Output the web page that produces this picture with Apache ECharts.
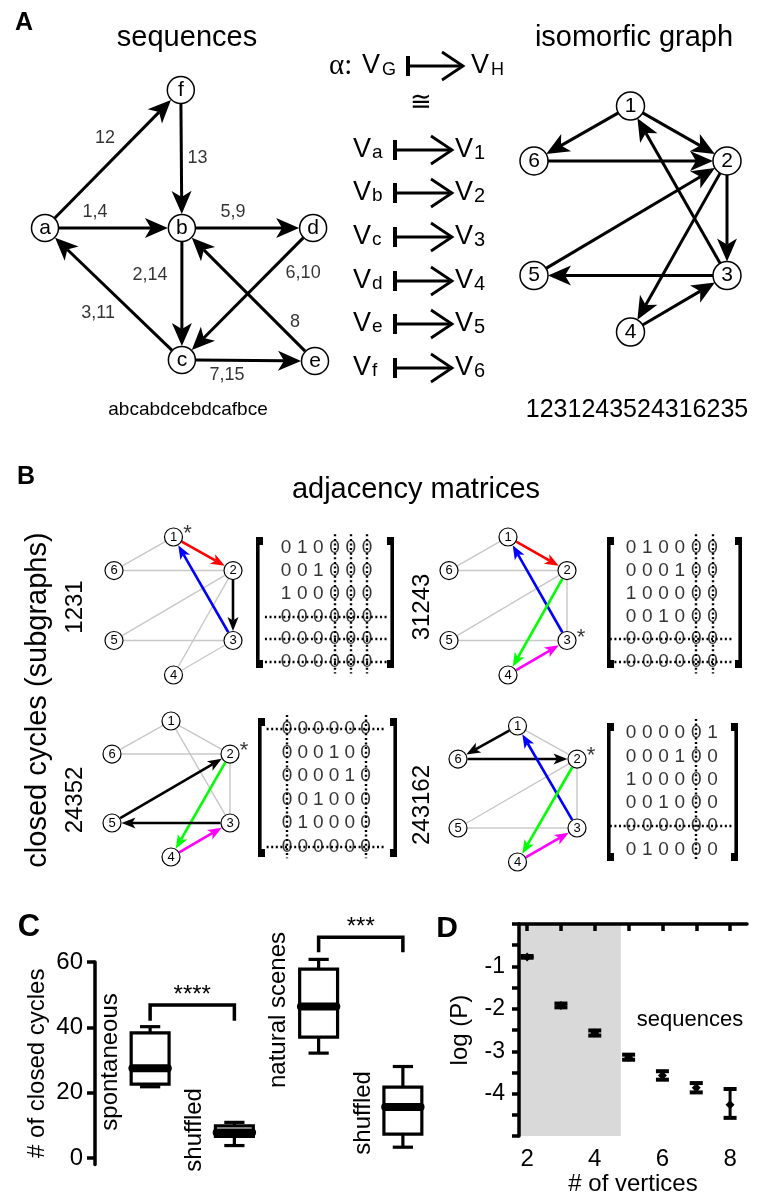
<!DOCTYPE html>
<html><head><meta charset="utf-8">
<script src="https://cdn.jsdelivr.net/npm/echarts@6/dist/echarts.min.js"></script>
<style>html,body{margin:0;padding:0;background:#fff}#main{width:758px;height:1197px}</style>
</head><body><div id="main"></div>
<script>
const FONT = '"Liberation Sans", Arial, sans-serif';

// ===== Panel A data =====
const seqNodes = ['a','b','c','d','e','f'];
const seqEdges = [['a','f'],['f','b'],['a','b'],['b','d'],['b','c'],['d','c'],['c','a'],['e','b'],['c','e']];
const seqEdgeLabels = ['12','13','1,4','5,9','2,14','6,10','3,11','8','7,15'];
const seqString = 'abcabdcebdcafbce';
const isoNodes = ['1','2','3','4','5','6'];
const isoEdges = [['1','6'],['1','2'],['6','2'],['3','1'],['2','3'],['5','2'],['2','4'],['3','5'],['4','3']];
const isoString = '1231243524316235';
const mapFrom = ['a','b','c','d','e','f'];
const mapTo = ['1','2','3','4','5','6'];

// ===== Panel B data =====
const cycles = ['1231','31243','24352','243162'];
const matrices = [
  [[0,1,0,0,0,0],[0,0,1,0,0,0],[1,0,0,0,0,0],[0,0,0,0,0,0],[0,0,0,0,0,0],[0,0,0,0,0,0]],
  [[0,1,0,0,0,0],[0,0,0,1,0,0],[1,0,0,0,0,0],[0,0,1,0,0,0],[0,0,0,0,0,0],[0,0,0,0,0,0]],
  [[0,0,0,0,0,0],[0,0,0,1,0,0],[0,0,0,0,1,0],[0,0,1,0,0,0],[0,1,0,0,0,0],[0,0,0,0,0,0]],
  [[0,0,0,0,0,1],[0,0,0,1,0,0],[1,0,0,0,0,0],[0,0,1,0,0,0],[0,0,0,0,0,0],[0,1,0,0,0,0]]
];
const maskedIdx = [[3,4,5],[4,5],[0,5],[4]];
const edgeColor = {'1>2':'#ff0000','3>1':'#0000ff','2>4':'#00ff00','4>3':'#ff00ff'};

// ===== Panel C data =====
const boxCats = ['spontaneous','shuffled','natural scenes','shuffled'];
const boxStats = [[21.8,22.6,27.5,38.3,40.2],[3.8,6.6,7.8,9.8,10.9],[32.1,37.0,46.4,57.8,60.8],[3.3,7.3,15.6,21.7,28.0]];
const boxLabelCenter = [29.4,8.6,45.3,13.8];
const yTicksC = [0,20,40,60];
const sigPairs = [[0,1],[2,3]];
const sigLevels = [[46.8,42.0],[67.6,63.0]];
const sigLabels = ['****','***'];

// ===== Panel D data =====
const vertices = [2,3,4,5,6,7,8];
const logP     = [-0.775,-1.92,-2.57,-3.14,-3.57,-3.86,-4.26];
const logPLow  = [-0.795,-1.965,-2.63,-3.20,-3.67,-3.97,-4.57];
const logPHigh = [-0.755,-1.875,-2.51,-3.08,-3.47,-3.75,-3.89];
const xTicksD = [2,3,4,5,6,7,8];
const xLabelsD = [2,4,6,8];
const yTicksD = [-5,-4.5,-4,-3.5,-3,-2.5,-2,-1.5,-1,-0.5,0];
const yLabelsD = [-1,-2,-3,-4];
const shadedUpTo = 4.77;

// ===== layout (positions only) =====
const seqLayout = {a:[0,0.509], b:[0.507,0.509], c:[0.507,0.996], d:[0.993,0.509], e:[1,1], f:[0.503,0]};
const seqLabelPos = [[0.222,0.177],[0.565,0.251],[0.185,0.450],[0.696,0.450],[0.389,0.683],[0.956,0.675],[0.197,0.823],[0.926,0.856],[0.674,1.052]];
const hexLayout = {'1':[0.5,0],'6':[0,0.243],'2':[1,0.243],'5':[0,0.75],'3':[1,0.75],'4':[0.5,1]};
const seqBox = [45,90,315,361];
const isoBox = [534,106,727,332];
const smallBoxes = [[114,537,233,675],[449,537,567,675],[112,721,230,857],[458,726,577,862]];
const matLayout = [
  {col0:286, dc:16.2, row0:548, dr:22.8, bx:[256,394], by:[537,668]},
  {col0:631, dc:16.3, row0:548, dr:22.8, bx:[607,742], by:[537,668]},
  {col0:287, dc:15.7, row0:729, dr:23.5, bx:[258,397], by:[718,857]},
  {col0:631, dc:16.3, row0:733, dr:23.3, bx:[607,738], by:[723,861]}
];

const grids = [], xAxes = [], yAxes = [], series = [], graphic = [];
function addGrid(r, xr, yr) {
  const i = grids.length;
  grids.push({left:r[0], top:r[1], width:r[2]-r[0], height:r[3]-r[1]});
  xAxes.push({gridIndex:i, type:'value', min:xr[0], max:xr[1], show:false});
  yAxes.push({gridIndex:i, type:'value', min:yr[0], max:yr[1], inverse:true, show:false});
  return i;
}
function nodeSeries(gi, nodes, layout, o) {
  return {type:'scatter', xAxisIndex:gi, yAxisIndex:gi, silent:true, clip:false, z:3,
    symbol:'circle', symbolSize:o.size,
    itemStyle:{color:'#fff', borderColor:'#000', borderWidth:o.border, opacity:1},
    label:{show:true, position:'inside', formatter:'{b}', color:'#000', fontSize:o.font, fontFamily:FONT},
    emphasis:{disabled:true},
    data: nodes.map(n => ({name:n, value:layout[n]}))};
}
function edgeSeries(gi, edges, layout, o) {
  return {type:'custom', xAxisIndex:gi, yAxisIndex:gi, silent:true, clip:false, z:2,
    encode:{x:[0,2], y:[1,3]},
    data: edges.map(e => [layout[e.s][0], layout[e.s][1], layout[e.t][0], layout[e.t][1]]),
    renderItem(params, api) {
      const e = edges[params.dataIndex];
      const p1 = api.coord([api.value(0), api.value(1)]);
      const p2 = api.coord([api.value(2), api.value(3)]);
      const dx = p2[0]-p1[0], dy = p2[1]-p1[1], len = Math.hypot(dx, dy);
      const u = [dx/len, dy/len], n = [-u[1], u[0]];
      const r = o.r;
      const s = [p1[0]+u[0]*r, p1[1]+u[1]*r];
      const tip = [p2[0]-u[0]*r, p2[1]-u[1]*r];
      const color = e.color || '#000';
      const w = e.width || o.width;
      if (!e.arrow) {
        return {type:'line', shape:{x1:s[0], y1:s[1], x2:tip[0], y2:tip[1]}, style:{stroke:color, lineWidth:w}};
      }
      const L = o.L, W = o.W, N = o.N;
      const base = [tip[0]-u[0]*L, tip[1]-u[1]*L];
      const notch = [tip[0]-u[0]*(L-N), tip[1]-u[1]*(L-N)];
      const c1 = [base[0]+n[0]*W/2, base[1]+n[1]*W/2];
      const c2 = [base[0]-n[0]*W/2, base[1]-n[1]*W/2];
      return {type:'group', children:[
        {type:'line', shape:{x1:s[0], y1:s[1], x2:notch[0], y2:notch[1]}, style:{stroke:color, lineWidth:w}},
        {type:'polygon', shape:{points:[tip, c1, notch, c2]}, style:{fill:color}}
      ]};
    }
  };
}
function txt(text, x, y, size, extra) {
  const el = {type:'text', x:x, y:y, z:50,
    style:Object.assign({text:text, fontSize:size, fontFamily:FONT, fill:'#000', align:'center', verticalAlign:'middle'}, (extra && extra.style) || {})};
  if (extra && extra.rotation) el.rotation = extra.rotation;
  return el;
}

// ---- Panel A ----
const bigArrow = {r:14, L:23, W:20, N:6, width:3};
const gSeq = addGrid(seqBox, [0,1], [0,1]);
series.push(edgeSeries(gSeq, seqEdges.map(e => ({s:e[0], t:e[1], arrow:true})), seqLayout, bigArrow));
series.push(nodeSeries(gSeq, seqNodes, seqLayout, {size:27, border:1.5, font:21}));
series.push({type:'scatter', xAxisIndex:gSeq, yAxisIndex:gSeq, symbolSize:1, silent:true, clip:false,
  itemStyle:{color:'rgba(0,0,0,0)'},
  label:{show:true, position:'inside', formatter:'{b}', fontSize:18, color:'#000', fontFamily:FONT},
  data: seqEdgeLabels.map((t,i) => ({name:t, value:seqLabelPos[i]}))});
const gIso = addGrid(isoBox, [0,1], [0,1]);
series.push(edgeSeries(gIso, isoEdges.map(e => ({s:e[0], t:e[1], arrow:true})), hexLayout, bigArrow));
series.push(nodeSeries(gIso, isoNodes, hexLayout, {size:28, border:1.5, font:21}));

graphic.push(txt('A', 24, 23, 25, {style:{fontWeight:'bold'}}));
graphic.push(txt('sequences', 187, 38, 29));
graphic.push(txt('isomorfic graph', 634, 38, 29));
graphic.push(txt(seqString, 188, 410, 19));
graphic.push(txt(isoString, 637, 410, 25));

function mapsto(xb, xt, y) {
  return [
    {type:'line', z:50, shape:{x1:xb, y1:y-10, x2:xb, y2:y+10}, style:{stroke:'#000', lineWidth:4}},
    {type:'line', z:50, shape:{x1:xb, y1:y, x2:xt, y2:y}, style:{stroke:'#000', lineWidth:2.8}},
    {type:'polyline', z:50, shape:{points:[[xt-21,y-14],[xt,y],[xt-21,y+14]]}, style:{stroke:'#000', lineWidth:2.8, fill:null}}
  ];
}
graphic.push(txt('α:', 329, 66, 29, {style:{align:'left', fontFamily:'"Liberation Serif", serif'}}));
graphic.push(txt('V', 362, 66, 27, {style:{align:'left'}}));
graphic.push(txt('G', 382, 70, 18, {style:{align:'left'}}));
graphic.push(...mapsto(408, 463, 66));
graphic.push(txt('V', 471, 66, 27, {style:{align:'left'}}));
graphic.push(txt('H', 491, 70, 18, {style:{align:'left'}}));
graphic.push(txt('≅', 421, 103, 26));
const mapRowY = [150,193,237,281,324,368];
mapFrom.forEach((f, i) => {
  const y = mapRowY[i];
  graphic.push(txt('V', 353, y, 27, {style:{align:'left'}}));
  graphic.push(txt(f, 372, y+3, 19, {style:{align:'left'}}));
  graphic.push(...mapsto(395, 452, y));
  graphic.push(txt('V', 455, y, 27, {style:{align:'left'}}));
  graphic.push(txt(mapTo[i], 474, y+3, 20, {style:{align:'left'}}));
});

// ---- Panel B ----
graphic.push(txt('B', 26, 477, 25, {style:{fontWeight:'bold'}}));
graphic.push(txt('adjacency matrices', 416, 490, 29));
graphic.push(txt('closed cycles (subgraphs)', 38, 700, 29, {rotation:Math.PI/2}));
const cycleLabelPos = [[75,607],[422,607],[75,800],[422,805]];
const smallArrow = {r:9.5, L:14, W:11, N:3.5, width:2.6};
cycles.forEach((cyc, k) => {
  graphic.push(txt(cyc, cycleLabelPos[k][0], cycleLabelPos[k][1], 24, {rotation:Math.PI/2}));
  const gi = addGrid(smallBoxes[k], [0,1], [0,1]);
  const inCycle = {};
  for (let i = 0; i < cyc.length-1; i++) inCycle[cyc[i] + '>' + cyc[i+1]] = true;
  const gray = [], colored = [];
  isoEdges.forEach(e => {
    const key = e[0] + '>' + e[1];
    if (inCycle[key]) colored.push({s:e[0], t:e[1], arrow:true, color:edgeColor[key] || '#000'});
    else gray.push({s:e[0], t:e[1], arrow:false, color:'#c8c8c8', width:1.4});
  });
  series.push(edgeSeries(gi, gray.concat(colored), hexLayout, smallArrow));
  series.push(nodeSeries(gi, isoNodes, hexLayout, {size:18, border:1.2, font:13}));
  series.push({type:'scatter', xAxisIndex:gi, yAxisIndex:gi, symbolSize:1, silent:true, clip:false, z:4,
    itemStyle:{color:'rgba(0,0,0,0)'},
    label:{show:true, position:'inside', formatter:'*', offset:[14,-3], fontSize:22, color:'#000', fontFamily:FONT},
    data:[{value:hexLayout[cyc[0]]}]});
});
matrices.forEach((m, k) => {
  const L = matLayout[k];
  const gi = addGrid([L.col0 - 1.3*L.dc, L.row0 - 0.6*L.dr, L.col0 + 6.3*L.dc, L.row0 + 5.5*L.dr], [-1.3,6.3], [-0.6,5.5]);
  const cells = [];
  m.forEach((row, r) => row.forEach((v, c) => cells.push([c, r, v])));
  series.push({type:'scatter', xAxisIndex:gi, yAxisIndex:gi, symbolSize:1, silent:true,
    itemStyle:{color:'rgba(0,0,0,0)'},
    label:{show:true, position:'inside', formatter: p => String(p.value[2]), fontSize:19, color:'#000', fontFamily:FONT},
    data:cells,
    markLine:{silent:true, symbol:['none','none'], label:{show:false}, animation:false,
      lineStyle:{color:'#000', width:2.4, type:[2,2.6], cap:'butt'},
      data: maskedIdx[k].map(c => ({xAxis:c})).concat(maskedIdx[k].map(r => ({yAxis:r})))}
  });
  const [bl, br] = L.bx, [bt, bb] = L.by;
  [[bl, 1], [br, -1]].forEach(([bx, dir]) => {
    const x0 = dir > 0 ? bx : bx - 3.6;
    graphic.push({type:'rect', z:50, shape:{x:x0, y:bt, width:3.6, height:bb-bt}, style:{fill:'#000'}});
    const cx = dir > 0 ? bx : bx - 7;
    graphic.push({type:'rect', z:50, shape:{x:cx, y:bt, width:7, height:8}, style:{fill:'#000'}});
    graphic.push({type:'rect', z:50, shape:{x:cx, y:bb-8, width:7, height:8}, style:{fill:'#000'}});
  });
});

// ---- Panel C ----
graphic.push(txt('C', 29, 927, 31, {style:{fontWeight:'bold'}}));
const gC = grids.length;
grids.push({left:108, top:962, width:337, height:202.5});
xAxes.push({gridIndex:gC, type:'category', data:boxCats, show:false});
yAxes.push({gridIndex:gC, type:'value', min:-2, max:60, offset:13,
  axisLine:{show:true, lineStyle:{color:'#000', width:3.5}},
  axisTick:{show:true, length:8, lineStyle:{color:'#000', width:3.5}, customValues:yTicksC},
  axisLabel:{customValues:yTicksC, fontSize:24, color:'#000', margin:12, fontFamily:FONT},
  splitLine:{show:false},
  name:'# of closed cycles', nameLocation:'middle', nameGap:46,
  nameTextStyle:{fontSize:24, color:'#000', fontFamily:FONT}});
series.push({type:'custom', xAxisIndex:gC, yAxisIndex:gC, silent:true,
  data: boxStats.map((s, i) => [i].concat(s)),
  renderItem(params, api) {
    const i = api.value(0);
    const band = api.size([1, 0])[0];
    const x = api.coord([i, 0])[0];
    const y = v => api.coord([i, v])[1];
    const yMin = y(api.value(1)), yQ1 = y(api.value(2)), yMed = y(api.value(3)), yQ3 = y(api.value(4)), yMax = y(api.value(5));
    const bw = band * 0.45, cw = band * 0.24, mw = band * 0.42;
    const st = {stroke:'#000', lineWidth:3.2};
    return {type:'group', children:[
      {type:'line', shape:{x1:x, y1:yMax, x2:x, y2:yQ3}, style:st},
      {type:'line', shape:{x1:x, y1:yQ1, x2:x, y2:yMin}, style:st},
      {type:'line', shape:{x1:x-cw/2, y1:yMax, x2:x+cw/2, y2:yMax}, style:st},
      {type:'line', shape:{x1:x-cw/2, y1:yMin, x2:x+cw/2, y2:yMin}, style:st},
      {type:'rect', shape:{x:x-bw/2, y:yQ3, width:bw, height:yQ1-yQ3}, style:{fill:'#fff', stroke:'#000', lineWidth:3.2}},
      {type:'line', shape:{x1:x-mw/2, y1:yMed, x2:x+mw/2, y2:yMed}, style:{stroke:'#000', lineWidth:8, lineCap:'round'}}
    ]};
  }
});
series.push({type:'custom', xAxisIndex:gC, yAxisIndex:gC, silent:true,
  data: boxLabelCenter.map((v, i) => [i, v]),
  renderItem(params, api) {
    const p = api.coord([api.value(0), api.value(1)]);
    return {type:'text', x:p[0]-40, y:p[1], rotation:Math.PI/2,
      style:{text:boxCats[params.dataIndex], fontSize:24, fontFamily:FONT, fill:'#000', align:'center', verticalAlign:'middle'}};
  }
});
series.push({type:'custom', xAxisIndex:gC, yAxisIndex:gC, silent:true,
  data: sigPairs.map((p, k) => [p[0], sigLevels[k][0]]),
  renderItem(params, api) {
    const k = params.dataIndex;
    const [i, j] = sigPairs[k];
    const [top, leg] = sigLevels[k];
    const x1 = api.coord([i, top])[0], x2 = api.coord([j, top])[0];
    const yT = api.coord([i, top])[1], yL = api.coord([i, leg])[1];
    const yTxt = api.coord([i, top + 3.1])[1];
    return {type:'group', children:[
      {type:'polyline', shape:{points:[[x1, yL],[x1, yT],[x2, yT],[x2, yL]]}, style:{stroke:'#000', lineWidth:3.5, fill:null}},
      {type:'text', x:(x1+x2)/2, y:yTxt, style:{text:sigLabels[k], fontSize:24, fontFamily:FONT, fill:'#000', align:'center', verticalAlign:'middle'}}
    ]};
  }
});

// ---- Panel D ----
graphic.push(txt('D', 447, 929, 30, {style:{fontWeight:'bold'}}));
const gD = grids.length;
grids.push({left:519, top:924, width:228, height:214});
xAxes.push({gridIndex:gD, type:'value', min:1.76, max:8.5, z:10,
  axisLine:{show:true, lineStyle:{color:'#000', width:3.5}},
  axisTick:{show:true, length:7, lineStyle:{color:'#000', width:3.5}, customValues:xTicksD},
  axisLabel:{customValues:xLabelsD, fontSize:24, color:'#000', margin:11, fontFamily:FONT},
  splitLine:{show:false},
  name:'# of vertices', nameLocation:'middle', nameGap:33,
  nameTextStyle:{fontSize:24, color:'#000', fontFamily:FONT}});
yAxes.push({gridIndex:gD, type:'value', min:-5, max:0, z:10,
  axisLine:{show:true, lineStyle:{color:'#000', width:3.5}},
  axisTick:{show:true, length:7, lineStyle:{color:'#000', width:3.5}, customValues:yTicksD},
  axisLabel:{customValues:yLabelsD, fontSize:23, color:'#000', margin:14, fontFamily:FONT},
  splitLine:{show:false},
  name:'log (P)', nameLocation:'middle', nameGap:47,
  nameTextStyle:{fontSize:24, color:'#000', fontFamily:FONT}});
series.push({type:'custom', xAxisIndex:gD, yAxisIndex:gD, silent:true, z:5,
  data: vertices.map((v, i) => [v, logP[i], logPLow[i], logPHigh[i]]),
  encode:{x:0, y:[1,2,3]},
  renderItem(params, api) {
    const x = api.coord([api.value(0), api.value(1)])[0];
    const yc = api.coord([api.value(0), api.value(1)])[1];
    const yl = api.coord([api.value(0), api.value(2)])[1];
    const yh = api.coord([api.value(0), api.value(3)])[1];
    const cw = 6.5, d = 4.5;
    return {type:'group', children:[
      {type:'line', shape:{x1:x, y1:yl, x2:x, y2:yh}, style:{stroke:'#000', lineWidth:3}},
      {type:'line', shape:{x1:x-cw, y1:yl, x2:x+cw, y2:yl}, style:{stroke:'#000', lineWidth:4}},
      {type:'line', shape:{x1:x-cw, y1:yh, x2:x+cw, y2:yh}, style:{stroke:'#000', lineWidth:4}},
      {type:'polygon', shape:{points:[[x, yc-d],[x+d, yc],[x, yc+d],[x-d, yc]]}, style:{fill:'#000'}}
    ]};
  },
  markArea:{silent:true, itemStyle:{color:'#d9d9d9'}, data:[[{xAxis:1.76},{xAxis:shadedUpTo}]]}
});
graphic.push(txt('sequences', 690, 1020, 22));

const chart = echarts.init(document.getElementById('main'), null, {renderer:'canvas'});
chart.setOption({
  animation:false,
  backgroundColor:'#fff',
  textStyle:{fontFamily:FONT},
  grid:grids, xAxis:xAxes, yAxis:yAxes, series:series, graphic:graphic
});
</script></body></html>
